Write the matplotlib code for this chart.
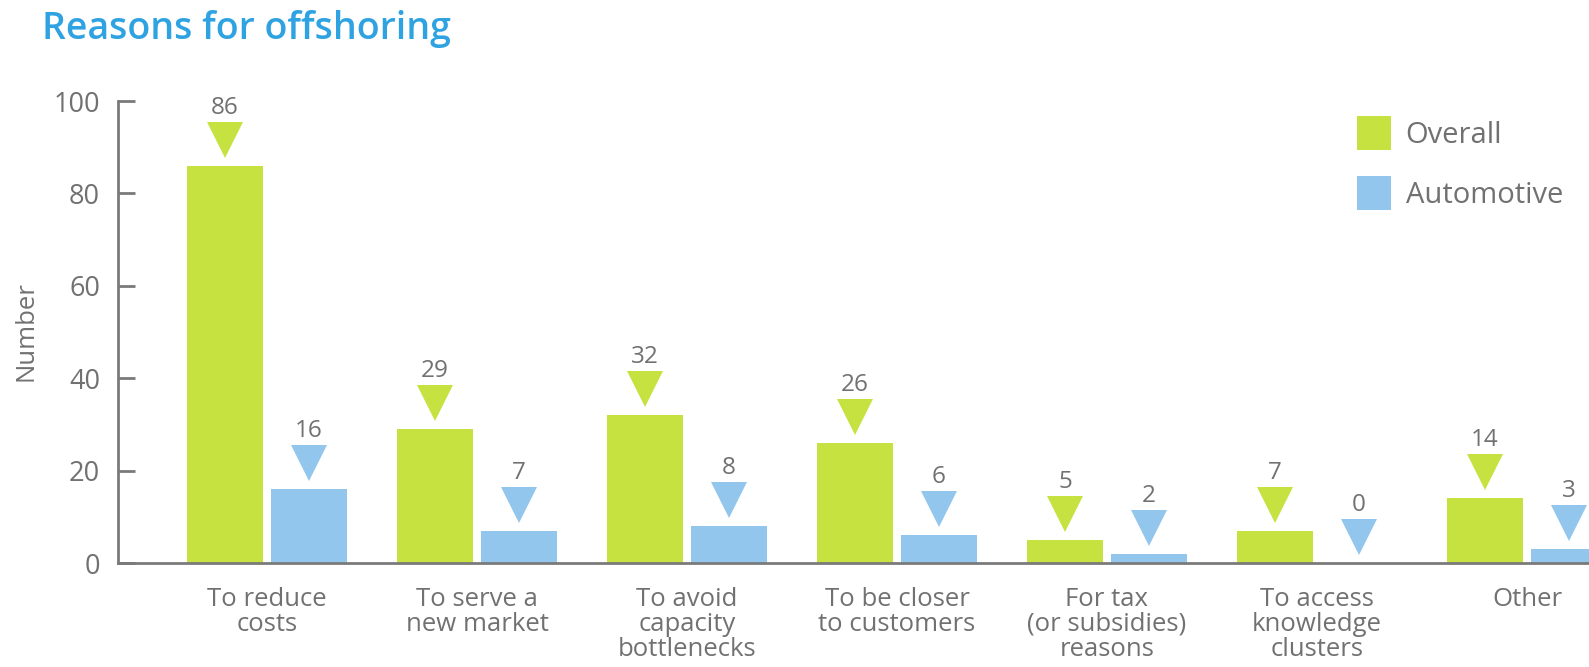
import matplotlib
matplotlib.use("Agg")
import matplotlib.pyplot as plt
import matplotlib.transforms as mtransforms
from matplotlib.patches import Patch
import numpy as np

categories = ["To reduce\ncosts", "To serve a\nnew market", "To avoid\ncapacity\nbottlenecks",
              "To be closer\nto customers", "For tax\n(or subsidies)\nreasons",
              "To access\nknowledge\nclusters", "Other"]
overall = [86, 29, 32, 26, 5, 7, 14]
automotive = [16, 7, 8, 6, 2, 0, 3]
series_names = ["Overall", "Automotive"]
yticks = [0, 20, 40, 60, 80, 100]

GREEN = "#c5e241"
BLUE = "#92c6ec"
GRAY = "#717171"
AXGRAY = "#7a7a7a"
TITLE_BLUE = "#2fa3e2"

plt.rcParams['font.family'] = ['Open Sans', 'DejaVu Sans']

W, H = 1589, 667
fig = plt.figure(figsize=(W / 100, H / 100), dpi=100)

left_px, right_px, zero_px, top_px = 118, 1650, 563, 101
ax = fig.add_axes([left_px / W, (H - zero_px) / H, (right_px - left_px) / W, (zero_px - top_px) / H])

x = np.arange(len(categories))
bw = 0.362
off = 0.2
ax.bar(x - off, overall, width=bw, color=GREEN, zorder=2)
ax.bar(x + off, automotive, width=bw, color=BLUE, zorder=2)

ax.set_xlim(-0.7095, 6 + (right_px - 1527) / 210)
ax.set_ylim(0, 100)

tri_off = mtransforms.ScaledTranslation(0, 26 / 100, fig.dpi_scale_trans)
txt_off = mtransforms.ScaledTranslation(0, 46 / 100, fig.dpi_scale_trans)
for xs, vals, col in [(x - off, overall, GREEN), (x + off, automotive, BLUE)]:
    ax.plot(xs, vals, linestyle='none', marker='v', markersize=25.5, color=col,
            markeredgewidth=0, transform=ax.transData + tri_off, clip_on=False, zorder=3)
    for xi, v in zip(xs, vals):
        ax.text(xi, v, str(v), ha='center', va='bottom', fontsize=17.5, color=GRAY,
                transform=ax.transData + txt_off, clip_on=False)

for s in ['top', 'right']:
    ax.spines[s].set_visible(False)
for s in ['left', 'bottom']:
    ax.spines[s].set_color(AXGRAY)
    ax.spines[s].set_linewidth(2)

ax.set_yticks(yticks)
ax.tick_params(axis='y', direction='in', length=12, width=2, color=AXGRAY,
               labelsize=19.5, labelcolor=GRAY, pad=13)
ax.set_xticks(x)
ax.set_xticklabels(categories, fontsize=18.5, color=GRAY, linespacing=1.0)
ax.tick_params(axis='x', length=0, pad=17)

fig.text(26 / W, 1 - 331 / H, "Number", rotation=90, ha='center', va='center',
         fontsize=18.5, color=GRAY)

fig.text(42 / W, 1 - 29 / H, "Reasons for offshoring", ha='left', va='center',
         fontsize=27, fontweight='semibold', color=TITLE_BLUE)

handles = [Patch(facecolor=GREEN, edgecolor='none'), Patch(facecolor=BLUE, edgecolor='none')]
leg = fig.legend(handles, series_names, loc='upper left', bbox_to_anchor=(1357 / W, 1 - 116 / H),
                 frameon=False, fontsize=21, handlelength=1.165, handleheight=1.41,
                 labelspacing=0.9, handletextpad=0.5, borderpad=0, borderaxespad=0)
for t in leg.get_texts():
    t.set_color(GRAY)

fig.savefig("out.png", dpi=100)
